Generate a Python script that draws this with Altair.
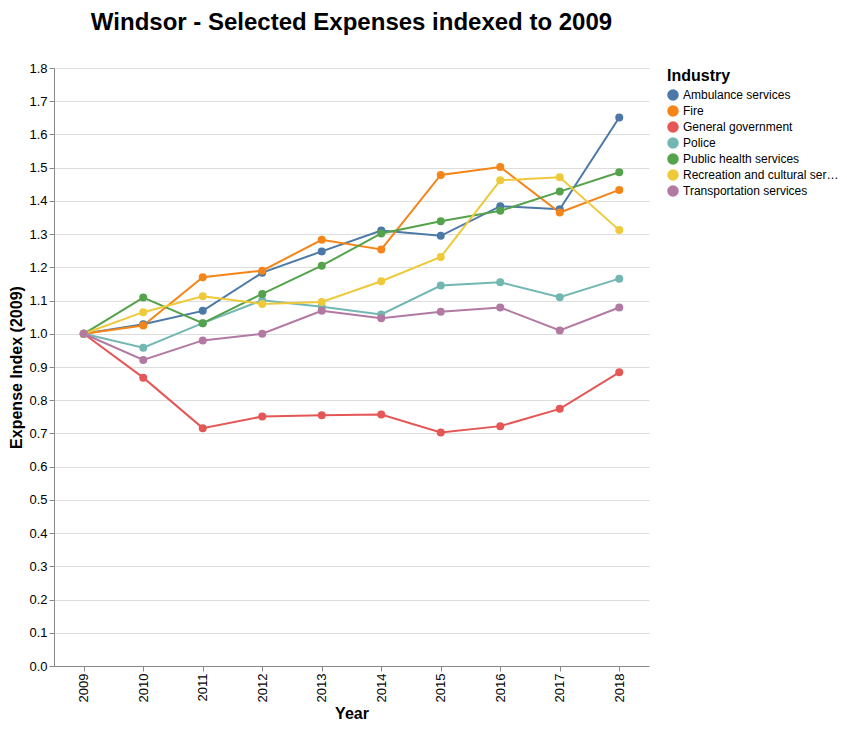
import altair as alt
import pandas as pd

years = [2009, 2010, 2011, 2012, 2013, 2014, 2015, 2016, 2017, 2018]
industries = ["Ambulance services", "Fire", "General government", "Police",
              "Public health services", "Recreation and cultural services",
              "Transportation services"]
ambulance = [1.0, 1.029, 1.069, 1.184, 1.248, 1.311, 1.295, 1.384, 1.375, 1.651]
fire = [1.0, 1.025, 1.170, 1.190, 1.283, 1.254, 1.478, 1.502, 1.365, 1.433]
general_gov = [1.0, 0.868, 0.716, 0.751, 0.755, 0.757, 0.703, 0.722, 0.774, 0.884]
police = [1.0, 0.958, 1.032, 1.101, 1.081, 1.058, 1.145, 1.155, 1.110, 1.166]
public_health = [1.0, 1.109, 1.032, 1.120, 1.205, 1.302, 1.339, 1.370, 1.428, 1.486]
recreation = [1.0, 1.065, 1.113, 1.090, 1.096, 1.158, 1.231, 1.462, 1.471, 1.312]
transportation = [1.0, 0.921, 0.980, 1.000, 1.069, 1.047, 1.066, 1.079, 1.010, 1.079]
y_ticks = [0.0, 0.1, 0.2, 0.3, 0.4, 0.5, 0.6, 0.7, 0.8, 0.9, 1.0,
           1.1, 1.2, 1.3, 1.4, 1.5, 1.6, 1.7, 1.8]

series = [ambulance, fire, general_gov, police, public_health, recreation, transportation]
rows = []
for name, vals in zip(industries, series):
    for y, v in zip(years, vals):
        rows.append({"Year": str(y), "Industry": name, "Index": v})
df = pd.DataFrame(rows)

colors = ["#4c78a8", "#f58518", "#e45756", "#72b7b2", "#54a24b", "#eeca3b", "#b279a2"]

chart = alt.Chart(df).mark_line(point=alt.OverlayMarkDef(size=64, filled=True, opacity=1), strokeWidth=2).encode(
    x=alt.X("Year:O", title="Year",
            axis=alt.Axis(labelAngle=270, labelFontSize=13, titleFontSize=16, grid=False)),
    y=alt.Y("Index:Q", title="Expense Index (2009)",
            scale=alt.Scale(domain=[0, 1.8]),
            axis=alt.Axis(format=".1f", values=y_ticks, labelOverlap=False,
                          labelFontSize=13, titleFontSize=16)),
    color=alt.Color("Industry:N", scale=alt.Scale(domain=industries, range=colors),
                    legend=alt.Legend(title="Industry", titleFontSize=16, labelFontSize=12,
                                      symbolType="circle", symbolSize=100, labelLimit=160,
                                      rowPadding=0)),
).properties(
    width=831, height=714, padding={"top": 3, "left": 0, "right": 0, "bottom": 0},
    autosize=alt.AutoSizeParams(type="fit", contains="padding"),
    title=alt.TitleParams("Windsor - Selected Expenses indexed to 2009", fontSize=24, fontWeight="bold",
                          anchor="middle", offset=27)
).configure_view(stroke=None).configure_axis(domainColor="#888", tickColor="#888")

chart.save("out.html", embed_options={"renderer": "svg", "actions": False})
